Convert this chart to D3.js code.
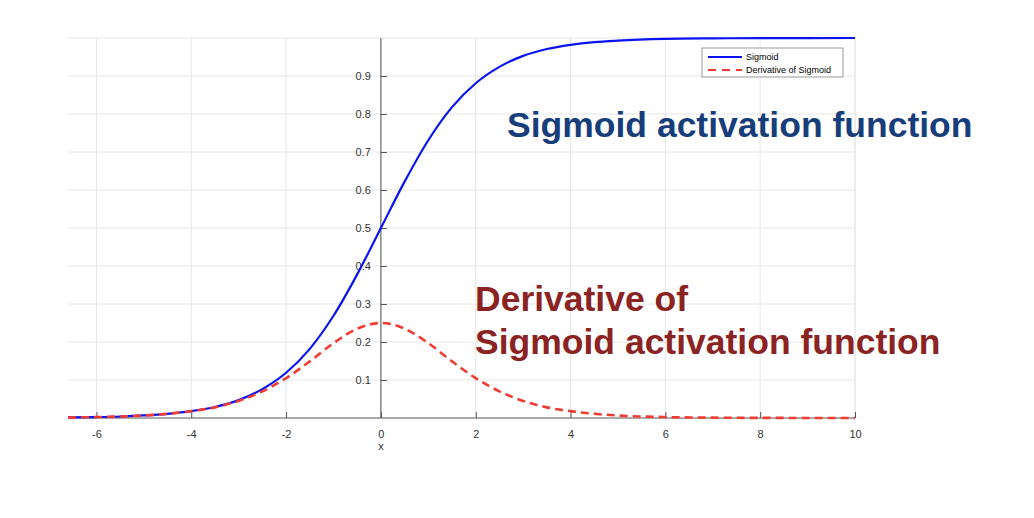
<!DOCTYPE html>
<html><head><meta charset="utf-8">
<script src="https://cdn.jsdelivr.net/npm/d3@7"></script>
<style>body{margin:0;background:#fff}svg{display:block;font-family:Helvetica,Arial,"Liberation Sans",sans-serif}</style>
</head><body>
<script>
// values
var xs = [-6.6,-6,-5.5,-5,-4.5,-4,-3.5,-3,-2.5,-2,-1.5,-1,-0.5,0,0.5,1,1.5,2,2.5,3,3.5,4,4.5,5,6,7,8,10];
var sigmoidVals = [0.0014,0.0025,0.004,0.0067,0.011,0.018,0.029,0.047,0.076,0.119,0.182,0.269,0.378,0.5,0.622,0.731,0.818,0.881,0.924,0.953,0.971,0.982,0.989,0.993,0.9975,0.999,0.9997,1.0];
var derivVals = [0.0014,0.0025,0.004,0.0066,0.011,0.018,0.028,0.045,0.070,0.105,0.149,0.197,0.235,0.25,0.235,0.197,0.149,0.105,0.070,0.045,0.028,0.018,0.011,0.0066,0.0025,0.0009,0.0003,0.00005];
var xTicks = [-6,-4,-2,0,2,4,6,8,10];
var yTicks = [0.1,0.2,0.3,0.4,0.5,0.6,0.7,0.8,0.9];

var width = 1034, height = 518;
var svg = d3.select("body").append("svg").attr("width", width).attr("height", height);
var x = d3.scaleLinear().domain([-6.6, 10]).range([68, 855]);
var y = d3.scaleLinear().domain([0, 1]).range([418, 38]);

// grid
svg.append("g").selectAll("line").data(xTicks.concat([10])).enter().append("line")
   .attr("x1", d => x(d)).attr("x2", d => x(d)).attr("y1", y(0)).attr("y2", y(1))
   .attr("stroke", "#e6e6e6");
svg.append("g").selectAll("line").data(yTicks.concat([1])).enter().append("line")
   .attr("x1", x(-6.6)).attr("x2", x(10)).attr("y1", d => y(d)).attr("y2", d => y(d))
   .attr("stroke", "#e6e6e6");

// axes through origin
var xAxis = svg.append("g").attr("transform", "translate(0," + y(0) + ")")
   .call(d3.axisBottom(x).tickValues(xTicks).tickSize(-6).tickPadding(12).tickFormat(d => String(d)));
var yAxis = svg.append("g").attr("transform", "translate(" + x(0) + ",0)")
   .call(d3.axisLeft(y).tickValues(yTicks).tickSize(-6).tickPadding(10).tickFormat(d3.format(".1f")));
[xAxis, yAxis].forEach(function(a) {
    a.select(".domain").attr("stroke", "#555");
    a.selectAll(".tick line").attr("stroke", "#555");
    a.selectAll(".tick text").attr("fill", "#333").style("font-size", "11px");
});
xAxis.select(".domain").attr("d", "M" + x(-6.6) + ",0H" + x(10));
yAxis.select(".domain").attr("d", "M0," + y(0) + "V" + y(1));
svg.append("text").attr("x", x(0)).attr("y", 450).attr("text-anchor", "middle")
   .style("font-size", "11px").attr("fill", "#333").text("x");

var line = d3.line().x(d => x(d[0])).y(d => y(d[1])).curve(d3.curveMonotoneX);
svg.append("path").datum(d3.zip(xs, sigmoidVals)).attr("d", line)
   .attr("fill", "none").attr("stroke", "#0a14f0").attr("stroke-width", 2.2);
svg.append("path").datum(d3.zip(xs, derivVals)).attr("d", line)
   .attr("fill", "none").attr("stroke", "#f03c32").attr("stroke-width", 2.6)
   .attr("stroke-dasharray", "8,5");

// legend
var lg = svg.append("g").attr("transform", "translate(702,48)");
lg.append("rect").attr("width", 141).attr("height", 29).attr("fill", "#fff").attr("stroke", "#999");
lg.append("line").attr("x1", 6).attr("x2", 40).attr("y1", 9).attr("y2", 9).attr("stroke", "#0a14f0").attr("stroke-width", 2);
lg.append("line").attr("x1", 6).attr("x2", 40).attr("y1", 22).attr("y2", 22).attr("stroke", "#f03c32").attr("stroke-width", 2).attr("stroke-dasharray", "8,6");
lg.append("text").attr("x", 44).attr("y", 12).style("font-size", "9px").text("Sigmoid");
lg.append("text").attr("x", 44).attr("y", 25).style("font-size", "9px").text("Derivative of Sigmoid");

// annotations
svg.append("text").attr("x", 507).attr("y", 137).attr("fill", "#173e7a")
   .style("font-size", "35.5px").style("font-weight", "bold").text("Sigmoid activation function");
svg.append("text").attr("x", 475).attr("y", 311).attr("fill", "#8b2323")
   .style("font-size", "35.5px").style("font-weight", "bold").text("Derivative of");
svg.append("text").attr("x", 475).attr("y", 354).attr("fill", "#8b2323")
   .style("font-size", "35.5px").style("font-weight", "bold").text("Sigmoid activation function");
</script>
</body></html>
